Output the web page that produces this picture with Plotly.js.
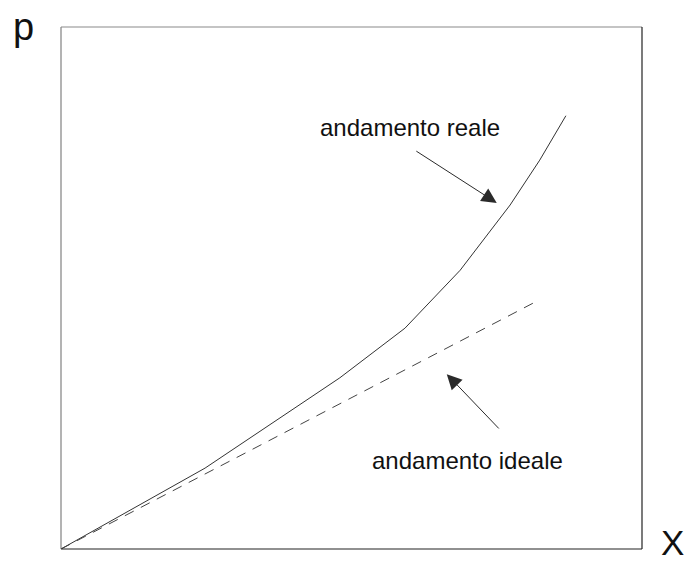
<!DOCTYPE html>
<html>
<head>
<meta charset="utf-8">
<script src="https://cdn.plot.ly/plotly-3.0.1.min.js"></script>
<style>html,body{margin:0;padding:0;background:#fff;}#chart{width:686px;height:564px;}</style>
</head>
<body>
<div id="chart"></div>
<script>
// Values (abstract units, 0..10 on both axes)
var realeX = [0, 2.48, 4.80, 5.92, 6.87, 7.73, 8.24, 8.69];
var realeY = [0, 1.55, 3.28, 4.23, 5.34, 6.59, 7.45, 8.30];
var idealeX = [0, 8.16];
var idealeY = [0, 4.73];
var labelReale = "andamento reale";
var labelIdeale = "andamento ideale";
var axisLabelY = "p";
var axisLabelX = "X";

var FONT = "Liberation Sans, Arial, Helvetica, sans-serif";

var traces = [
  {x: realeX, y: realeY, mode: "lines", line: {color: "#333333", width: 1}, hoverinfo: "skip"},
  {x: idealeX, y: idealeY, mode: "lines", line: {color: "#444444", width: 1, dash: "10px,8px"}, hoverinfo: "skip"}
];

var layout = {
  width: 686, height: 564,
  margin: {l: 61, r: 44, t: 27, b: 15, pad: 0},
  paper_bgcolor: "#ffffff", plot_bgcolor: "#ffffff",
  showlegend: false,
  xaxis: {range: [0, 10], showgrid: false, zeroline: false, showticklabels: false, ticks: "", showline: false, fixedrange: true},
  yaxis: {range: [0, 10], showgrid: false, zeroline: false, showticklabels: false, ticks: "", showline: false, fixedrange: true},
  shapes: [
    {type: "line", xref: "paper", yref: "paper", x0: 0, x1: 0, y0: 0, y1: 1, line: {color: "#808080", width: 1.2}},
    {type: "line", xref: "paper", yref: "paper", x0: 0, x1: 1, y0: 1, y1: 1, line: {color: "#8a8a8a", width: 1.2}},
    {type: "line", xref: "paper", yref: "paper", x0: 1, x1: 1, y0: 0, y1: 1, line: {color: "#222222", width: 1.2}},
    {type: "line", xref: "paper", yref: "paper", x0: 0, x1: 1, y0: 0, y1: 0, line: {color: "#222222", width: 1.2}}
  ],
  annotations: [
    {x: 6.01, y: 8.07, xref: "x", yref: "y", text: labelReale, showarrow: false, font: {family: FONT, size: 24, color: "#111111"}},
    {x: 7.00, y: 1.70, xref: "x", yref: "y", text: labelIdeale, showarrow: false, font: {family: FONT, size: 24, color: "#111111"}},
    {x: 7.50, y: 6.63, xref: "x", yref: "y", ax: 6.09, ay: 7.64, axref: "x", ayref: "y", text: "", showarrow: true,
     arrowhead: 2, arrowsize: 3, arrowwidth: 1, arrowcolor: "#2a2a2a"},
    {x: 6.64, y: 3.35, xref: "x", yref: "y", ax: 7.56, ay: 2.28, axref: "x", ayref: "y", text: "", showarrow: true,
     arrowhead: 2, arrowsize: 3, arrowwidth: 1, arrowcolor: "#2a2a2a"},
    {x: -0.065, y: 1.0, xref: "paper", yref: "paper", xanchor: "center", yanchor: "middle", text: axisLabelY, showarrow: false,
     font: {family: FONT, size: 38, color: "#111111"}},
    {x: 1.052, y: 0.012, xref: "paper", yref: "paper", xanchor: "center", yanchor: "middle", text: axisLabelX, showarrow: false,
     font: {family: FONT, size: 35, color: "#111111"}}
  ]
};

Plotly.newPlot("chart", traces, layout, {displayModeBar: false, staticPlot: true});
</script>
</body>
</html>
